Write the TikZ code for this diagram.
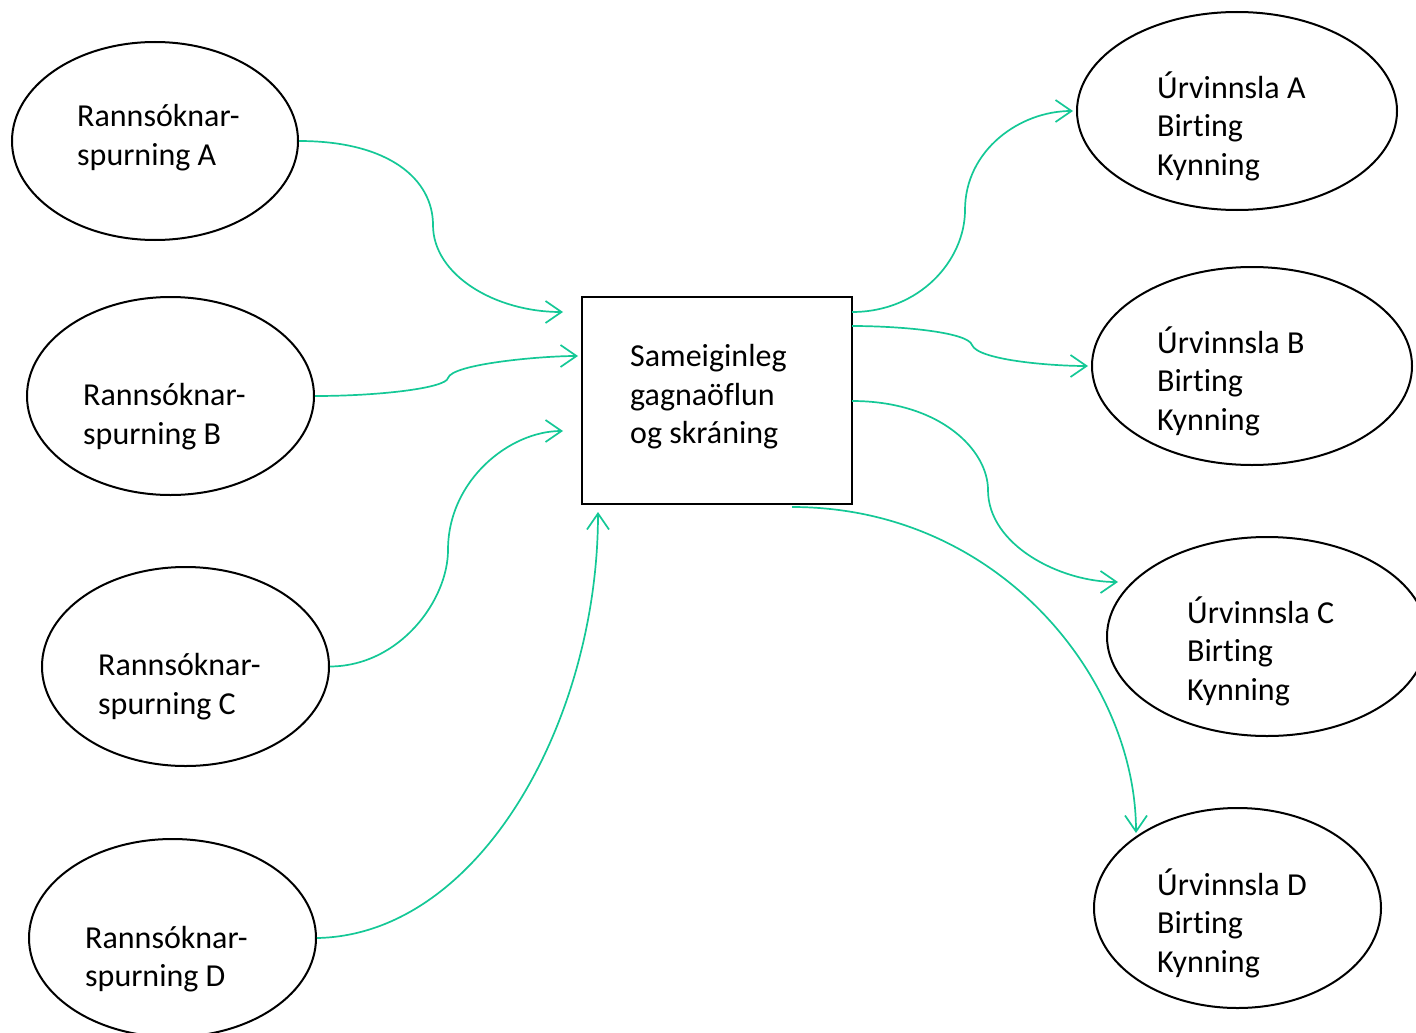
\documentclass[tikz,border=0pt]{standalone}
\usepackage{fontspec}
\setmainfont[Ligatures=NoCommon]{Carlito}
\usetikzlibrary{arrows.meta,calc,shapes.geometric}
\definecolor{conn}{RGB}{20,200,150}
\begin{document}
\begin{tikzpicture}[x=1pt,y=-1pt,
  oval/.style={draw=black,line width=2pt,ellipse,inner sep=0pt},
  lbl/.style={anchor=west,align=left,inner sep=0pt,font=\fontsize{32}{38.5}\selectfont},
  link/.style={draw=conn,line width=1.7pt,-{Straight Barb[length=16pt,width=22pt,line width=1.7pt]}}]
\useasboundingbox (0,0) rectangle (1416,1033);
% left ovals
\node[oval,minimum width=286pt,minimum height=198pt] (ra) at (155,141) {};
\node[oval,minimum width=287pt,minimum height=198pt] (rb) at (170.5,396) {};
\node[oval,minimum width=287pt,minimum height=199pt] (rc) at (185.5,666.5) {};
\node[oval,minimum width=287pt,minimum height=198pt] (rd) at (172.5,938) {};
% right ovals
\node[oval,minimum width=320pt,minimum height=198pt] (ua) at (1237,111) {};
\node[oval,minimum width=320pt,minimum height=198pt] (ub) at (1252,366) {};
\node[oval,minimum width=320pt,minimum height=199pt] (uc) at (1267,636.5) {};
\node[oval,minimum width=287pt,minimum height=200pt] (ud) at (1237.5,908) {};
% box
\node[draw=black,line width=2pt,minimum width=270pt,minimum height=207pt,inner sep=0pt] (box) at (717,400.5) {};
% labels
\node[lbl] (tra) at (77,137.5) {Rannsóknar-\\spurning A};
\node[lbl] (trb) at (83,416.5) {Rannsóknar-\\spurning B};
\node[lbl] (trc) at (98,686.5) {Rannsóknar-\\spurning C};
\node[lbl] (trd) at (85,959) {Rannsóknar-\\spurning D};
\node[lbl] (tua) at (1157,126) {Úrvinnsla A\\Birting\\Kynning};
\node[lbl] (tub) at (1157,381) {Úrvinnsla B\\Birting\\Kynning};
\node[lbl] (tuc) at (1187,651) {Úrvinnsla C\\Birting\\Kynning};
\node[lbl] (tud) at (1157,923) {Úrvinnsla D\\Birting\\Kynning};
\node[lbl] (tbox) at (630,397) {Sameiginleg\\gagnaöflun\\og skráning};
% connector ends
\coordinate (ia) at (563,312);
\coordinate (ib) at (578,356);
\coordinate (ic) at (563,431);
\coordinate (id) at (598,512);
\coordinate (oa) at (852,312);
\coordinate (ob) at (852,326);
\coordinate (oc) at (852,401);
\coordinate (od) at (792,507);
\coordinate (ea) at (1073,111);
\coordinate (eb) at (1088,366);
\coordinate (ec) at (1118,582);
\coordinate (ed) at (1136,833);
% inputs
\draw[link] (ra.east) .. controls (390,141) and (433,180) .. (433,225)
  .. controls (433,275) and (495,312) .. (ia);
\draw[link] (rb.east) .. controls (380,396) and (446,388) .. (448,378)
  .. controls (452,364) and (540,356) .. (ib);
\draw[link] (rc.east) .. controls (400,666) and (448,600) .. (448,550)
  .. controls (448,480) and (510,431) .. (ic);
\draw[link] (rd.east) .. controls (480,935) and (598,720) .. (id);
% outputs
\draw[link] (oa) .. controls (920,312) and (965,260) .. (965,210)
  .. controls (965,150) and (1020,111) .. (ea);
\draw[link] (ob) .. controls (900,326) and (968,332) .. (972,345)
  .. controls (978,360) and (1050,366) .. (eb);
\draw[link] (oc) .. controls (940,401) and (988,450) .. (988,490)
  .. controls (988,545) and (1060,582) .. (ec);
\draw[link] (od) .. controls (1000,507) and (1136,680) .. (ed);
\end{tikzpicture}
\end{document}
